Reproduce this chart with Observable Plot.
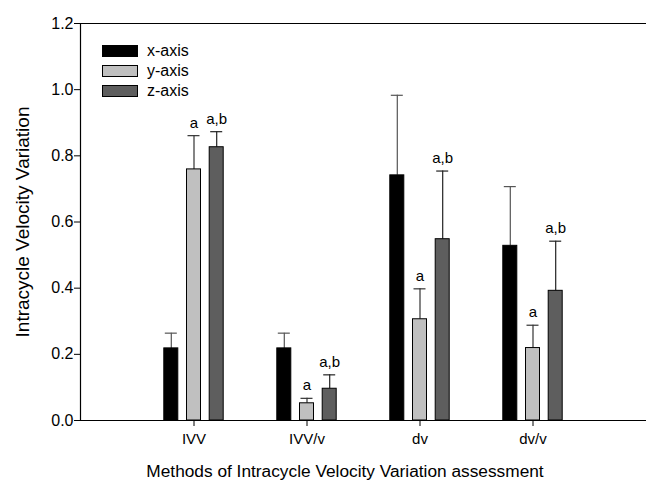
<!DOCTYPE html>
<html>
<head>
<meta charset="utf-8">
<script src="https://cdn.jsdelivr.net/npm/d3@7"></script>
<script src="https://cdn.jsdelivr.net/npm/@observablehq/plot@0.6"></script>
<style>
  html, body { margin: 0; padding: 0; background: #fff; }
  #wrap { position: relative; width: 646px; height: 484px; font-family: "Liberation Sans", Arial, sans-serif; }
  #legend { position: absolute; left: 102px; top: 41px; font-size: 16px; color: #000; }
  #legend .item { display: flex; align-items: center; height: 20px; }
  #legend .sw { width: 34px; height: 10px; border: 1px solid #000; margin-right: 9px; }
</style>
</head>
<body>
<div id="wrap"><div id="legend"></div></div>
<script>
const methods = ["IVV", "IVV/v", "dv", "dv/v"];
const series = ["x-axis", "y-axis", "z-axis"];
const seriesColors = ["#000000", "#c0c0c0", "#5e5e5e"];
const errColors = ["#555555", "#333333", "#222222"];

const xAxisMean = [0.218, 0.218, 0.741, 0.528];
const xAxisErr  = [0.046, 0.046, 0.242, 0.179];
const yAxisMean = [0.759, 0.052, 0.306, 0.219];
const yAxisErr  = [0.102, 0.015, 0.092, 0.069];
const zAxisMean = [0.826, 0.096, 0.548, 0.392];
const zAxisErr  = [0.047, 0.042, 0.206, 0.150];
const xAxisLabel = ["", "", "", ""];
const yAxisLabel = ["a", "a", "a", "a"];
const zAxisLabel = ["a,b", "a,b", "a,b", "a,b"];
const yTicks = [0, 0.2, 0.4, 0.6, 0.8, 1.0, 1.2];

const means = [xAxisMean, yAxisMean, zAxisMean];
const errs = [xAxisErr, yAxisErr, zAxisErr];
const labels = [xAxisLabel, yAxisLabel, zAxisLabel];

// layout constants (pixels) for grouping bars inside each category band
const groupStep = 22.7;
const barWidth = 14;
const bandwidth = 113; // (645 - 80) / 5 with paddingOuter 0.5

function seriesData(j) {
  return methods.map((m, i) => ({ method: m, series: series[j], mean: means[j][i], err: errs[j][i], label: labels[j][i] }));
}

const seriesMarks = series.flatMap((s, j) => {
  const d = seriesData(j);
  const offset = (j - 1) * groupStep;
  const inL = (bandwidth - barWidth) / 2 + offset;
  const inR = (bandwidth - barWidth) / 2 - offset;
  return [
    Plot.ruleX(d, { x: "method", y1: "mean", y2: r => r.mean + r.err, dx: offset, stroke: errColors[j], strokeWidth: 1.2 }),
    Plot.rectY(d, { x: "method", y: "mean", fill: seriesColors[j], stroke: "#000", strokeWidth: 1, insetLeft: inL, insetRight: inR }),
    Plot.tickY(d, { x: "method", y: r => r.mean + r.err, stroke: errColors[j], strokeWidth: 1.2, insetLeft: inL + 1, insetRight: inR + 1 }),
    Plot.text(d, { x: "method", y: r => r.mean + r.err, text: "label", dx: offset, lineAnchor: "bottom", dy: -8, fontSize: 15 })
  ];
});

const chart = Plot.plot({
  width: 646,
  height: 484,
  marginLeft: 80,
  marginRight: 1,
  marginTop: 23,
  marginBottom: 64,
  style: { fontFamily: "'Liberation Sans', Arial, sans-serif", fontSize: "14px", color: "#000", background: "#fff" },
  x: { type: "band", domain: methods, paddingInner: 0, paddingOuter: 0.5, label: null },
  y: { domain: [0, 1.2] },
  marks: [
    Plot.axisY({ ticks: yTicks, tickFormat: d => d.toFixed(1), tickSize: 6, tickPadding: 1, label: null, fontSize: 16, stroke: "#000" }),
    Plot.axisX({ tickSize: 6, tickPadding: 7, label: null, fontSize: 15, stroke: "#000" }),
    ...seriesMarks,
    Plot.frame({ anchor: "left", stroke: "#000", strokeWidth: 1.2 }),
    Plot.frame({ anchor: "top", stroke: "#000", strokeWidth: 1.2 }),
    Plot.frame({ anchor: "bottom", stroke: "#000", strokeWidth: 1.2 }),
    Plot.text(["Intracycle Velocity Variation"], { frameAnchor: "left", textAnchor: "middle", rotate: -90, dx: -58, fontSize: 19 }),
    Plot.text(["Methods of Intracycle Velocity Variation assessment"], { frameAnchor: "bottom", lineAnchor: "middle", dy: 51, dx: -18, fontSize: 17.3 })
  ]
});

const wrap = document.getElementById("wrap");
wrap.insertBefore(chart, wrap.firstChild);

const legend = document.getElementById("legend");
series.forEach((s, j) => {
  const item = document.createElement("div");
  item.className = "item";
  const sw = document.createElement("div");
  sw.className = "sw";
  sw.style.background = seriesColors[j];
  const t = document.createElement("span");
  t.textContent = s;
  item.appendChild(sw);
  item.appendChild(t);
  legend.appendChild(item);
});
</script>
</body>
</html>
